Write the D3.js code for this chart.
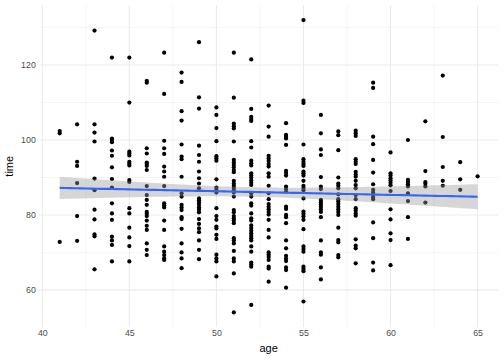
<!DOCTYPE html>
<html>
<head>
<meta charset="utf-8">
<script src="https://cdn.jsdelivr.net/npm/d3@7"></script>
<style>
  html, body { margin: 0; padding: 0; background: #fff; }
  svg { display: block; }
  text { font-family: "Liberation Sans", Arial, Helvetica, sans-serif; }
</style>
</head>
<body>
<svg id="chart" width="504" height="360"></svg>
<script>
// ---- data ----
const ages = [41,42,43,44,45,46,47,48,49,50,51,52,53,54,55,56,57,58,59,60,61,62,63,64,65];
const times = [
  [102.4,101.8,72.8],
  [104.2,94.2,93.1,88.5,79.7,73.1],
  [129.2,104.2,102.0,99.6,89.7,86.6,81.4,78.8,74.8,74.3,65.5],
  [122.0,100.4,100.0,99.4,97.2,95.8,92.7,89.6,87.3,83.1,80.4,78.7,74.2,73.2,72.0,67.6],
  [122.0,110.0,96.9,96.4,95.9,94.2,93.7,93.2,89.3,88.8,81.8,80.4,76.6,74.0,71.7,67.6],
  [115.8,115.3,97.8,96.4,94.0,93.6,93.1,92.0,87.7,85.3,84.0,82.7,80.8,80.3,79.7,78.5,77.1,76.0,72.4,70.7,69.3],
  [123.3,112.3,99.8,97.8,96.3,92.9,91.6,90.2,87.7,83.1,82.6,82.0,78.5,76.0,71.6,70.2,69.3,68.4,68.0],
  [118.0,115.5,107.7,105.2,98.8,95.6,94.9,90.2,85.8,84.9,82.7,82.0,81.3,79.4,78.9,76.3,72.4,70.0,68.4,65.8],
  [126.1,111.4,108.4,98.5,96.0,94.2,91.6,89.8,88.4,87.1,84.4,83.9,83.3,82.7,82.0,81.4,80.7,78.9,77.6,76.4,75.4,73.2,70.7,68.2],
  [108.7,106.7,103.2,99.7,95.7,95.1,94.5,89.5,87.3,86.7,86.0,81.8,79.7,78.7,76.9,76.4,74.7,73.6,69.4,68.4,67.6,63.6],
  [123.3,111.3,104.4,103.7,103.1,99.6,94.7,94.0,93.4,92.7,92.0,91.4,89.1,88.4,87.8,87.2,86.6,86.0,84.9,81.3,80.7,79.7,79.1,78.5,77.8,73.8,73.2,72.4,70.4,68.4,67.6,64.4,54.0],
  [121.5,108.3,106.2,105.6,105.1,99.7,98.0,94.5,93.8,93.2,91.1,90.5,89.9,89.2,88.6,88.0,85.8,84.9,83.1,82.5,80.4,79.1,78.5,77.2,76.5,75.8,75.1,74.4,73.8,73.2,71.6,70.2,67.3,66.8,66.2,56.0],
  [109.2,103.6,100.9,95.8,95.1,94.4,93.6,92.9,91.1,90.2,87.8,85.8,84.2,82.9,82.2,81.5,80.8,80.1,78.7,76.0,74.0,70.0,69.4,68.8,68.0,66.2,65.7,62.2],
  [104.5,101.4,100.9,100.4,98.7,91.8,91.2,90.5,87.6,86.9,86.2,82.2,81.6,80.0,79.4,77.8,73.2,71.1,69.1,68.4,67.7,66.0,65.3,60.6],
  [132.0,110.5,109.9,98.8,94.9,94.2,93.6,93.1,91.6,91.1,90.5,89.1,87.8,87.2,86.6,84.4,80.9,80.3,79.6,78.7,76.2,71.6,70.9,70.2,66.2,65.6,65.0,56.9],
  [106.7,101.8,97.5,96.0,90.1,87.6,86.9,84.0,83.4,82.8,82.2,81.5,80.8,79.4,73.2,70.0,69.4,66.0,62.8],
  [102.3,101.3,97.3,90.0,88.4,87.8,87.1,85.5,84.2,83.6,82.9,82.2,81.5,80.8,80.0,76.6,73.3,72.7,69.3,68.7],
  [102.5,101.8,101.1,94.9,94.2,93.6,91.5,90.8,90.2,89.1,88.0,87.1,85.3,84.2,81.8,81.2,80.4,79.8,73.5,71.8,71.1,67.1],
  [115.3,113.9,100.9,98.9,94.7,91.3,88.2,86.7,86.0,85.4,84.8,84.2,78.0,73.8,67.3,65.2],
  [96.7,91.1,90.5,89.8,89.2,88.6,87.9,86.4,81.5,78.8,75.1,73.3,66.6],
  [100.0,89.4,88.8,88.2,87.6,85.8,83.7,79.4,73.6],
  [105.0,91.7,88.8,88.3,87.6,83.3],
  [117.2,100.8,92.8,89.1,87.8],
  [94.1,89.5,86.7],
  [90.3]
];
const xTicks = [40,45,50,55,60,65];
const yTicks = [60,80,100,120];
const xMinor = [42.5,47.5,52.5,57.5,62.5];
const yMinor = [70,90,110,130];

// ---- build points ----
const points = [];
ages.forEach((a, i) => times[i].forEach(t => points.push({x: a, y: t})));

const panel = {left: 38.8, right: 498.5, top: 5.5, bottom: 327};

const xExt = d3.extent(points, d => d.x);
const yExt = d3.extent(points, d => d.y);
const xPad = (xExt[1] - xExt[0]) * 0.05, yPad = (yExt[1] - yExt[0]) * 0.05;
const x = d3.scaleLinear().domain([xExt[0] - xPad, xExt[1] + xPad]).range([panel.left, panel.right]);
const y = d3.scaleLinear().domain([yExt[0] - yPad, yExt[1] + yPad]).range([panel.bottom, panel.top]);

const svg = d3.select("#chart");

// grid
const g = svg.append("g");
g.selectAll(".xminor").data(xMinor).enter().append("line")
  .attr("x1", d => x(d)).attr("x2", d => x(d)).attr("y1", panel.top).attr("y2", panel.bottom)
  .attr("stroke", "#EBEBEB").attr("stroke-width", 0.55);
g.selectAll(".yminor").data(yMinor).enter().append("line")
  .attr("y1", d => y(d)).attr("y2", d => y(d)).attr("x1", panel.left).attr("x2", panel.right)
  .attr("stroke", "#EBEBEB").attr("stroke-width", 0.55);
g.selectAll(".xmajor").data(xTicks).enter().append("line")
  .attr("x1", d => x(d)).attr("x2", d => x(d)).attr("y1", panel.top).attr("y2", panel.bottom)
  .attr("stroke", "#EBEBEB").attr("stroke-width", 1.07);
g.selectAll(".ymajor").data(yTicks).enter().append("line")
  .attr("y1", d => y(d)).attr("y2", d => y(d)).attr("x1", panel.left).attr("x2", panel.right)
  .attr("stroke", "#EBEBEB").attr("stroke-width", 1.07);

// axes (labels only)
const xAxis = d3.axisBottom(x).tickValues(xTicks).tickSize(0).tickPadding(0).tickFormat(d3.format("d"));
const xa = svg.append("g").attr("transform", `translate(0,${panel.bottom + 3})`).call(xAxis);
xa.select(".domain").remove();
xa.selectAll("text").attr("fill", "#4D4D4D").style("font-size", "8.8px").attr("dy", "0.71em")
  .style("font-family", '"Liberation Sans", Arial, sans-serif');

const yAxis = d3.axisLeft(y).tickValues(yTicks).tickSize(0).tickPadding(0).tickFormat(d3.format("d"));
const ya = svg.append("g").attr("transform", `translate(${panel.left - 3},0)`).call(yAxis);
ya.select(".domain").remove();
ya.selectAll("text").attr("fill", "#4D4D4D").style("font-size", "8.8px")
  .style("font-family", '"Liberation Sans", Arial, sans-serif');

// points
svg.append("g").selectAll("circle").data(points).enter().append("circle")
  .attr("cx", d => x(d.x)).attr("cy", d => y(d.y)).attr("r", 2.1).attr("fill", "#000");

// linear fit with 95% CI
const n = points.length;
const mx = d3.mean(points, d => d.x), my = d3.mean(points, d => d.y);
let sxx = 0, sxy = 0;
points.forEach(d => { sxx += (d.x - mx) ** 2; sxy += (d.x - mx) * (d.y - my); });
const b = sxy / sxx, a0 = my - b * mx;
let sse = 0;
points.forEach(d => { sse += (d.y - (a0 + b * d.x)) ** 2; });
const s = Math.sqrt(sse / (n - 2));
const tval = 1.966;
const grid = d3.range(80).map(i => xExt[0] + (xExt[1] - xExt[0]) * i / 79);
const fit = grid.map(xx => {
  const yy = a0 + b * xx;
  const se = s * Math.sqrt(1 / n + (xx - mx) ** 2 / sxx);
  return {x: xx, y: yy, lo: yy - tval * se, hi: yy + tval * se};
});
svg.append("path").datum(fit)
  .attr("d", d3.area().x(d => x(d.x)).y0(d => y(d.lo)).y1(d => y(d.hi)))
  .attr("fill", "#999999").attr("fill-opacity", 0.4);
svg.append("path").datum(fit)
  .attr("d", d3.line().x(d => x(d.x)).y(d => y(d.y)))
  .attr("fill", "none").attr("stroke", "#3366FF").attr("stroke-width", 2.13);

// titles
svg.append("text").attr("x", (panel.left + panel.right) / 2).attr("y", 352)
  .attr("text-anchor", "middle").attr("fill", "#000").style("font-size", "11px").text("age");
svg.append("text").attr("transform", `translate(13,${(panel.top + panel.bottom) / 2}) rotate(-90)`)
  .attr("text-anchor", "middle").attr("fill", "#000").style("font-size", "11px").text("time");
</script>
</body>
</html>
